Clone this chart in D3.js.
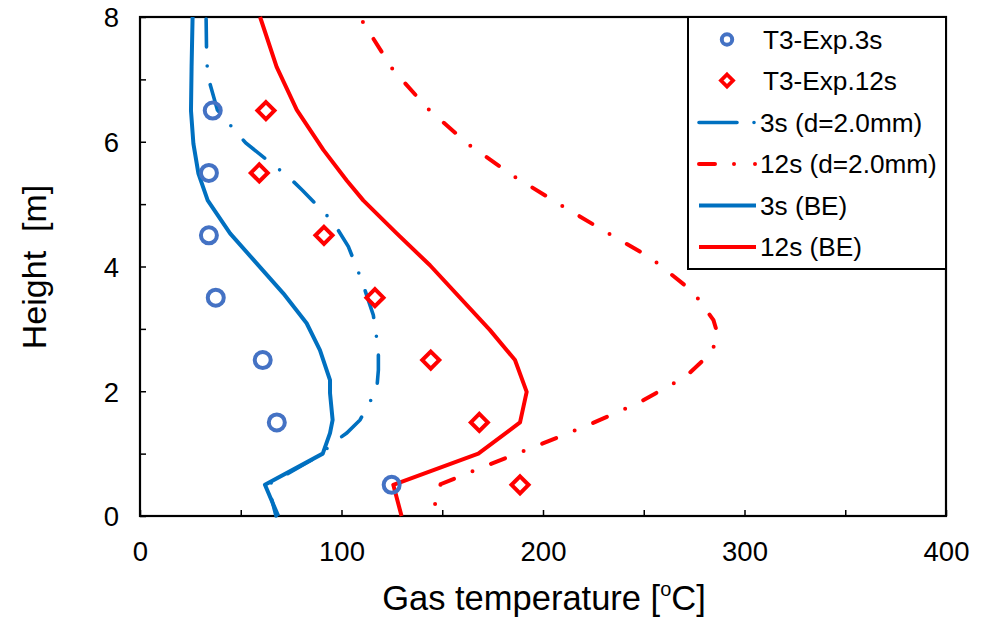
<!DOCTYPE html>
<html><head><meta charset="utf-8">
<script src="https://cdn.jsdelivr.net/npm/d3@7"></script>
<style>
html,body{margin:0;padding:0;background:#fff;}
svg text{font-family:"Liberation Sans",Arial,sans-serif;fill:#000;}
</style></head>
<body><svg id="c" width="991" height="617"></svg>
<script>
// ---- data (height [m], temperature [°C]) ----
const expHeights = [6.5, 5.5, 4.5, 3.5, 2.5, 1.5, 0.5];
const exp3s  = [36.1, 34.2, 34.2, 37.6, 60.9, 67.9, 124.9];
const exp12s = [62.5, 59.2, 91.3, 116.6, 144.3, 168.4, 188.6];

const d3sHeights = [8, 7.28, 6.99, 6.51, 6.21, 5.98, 5.62, 5.44, 5.22, 4.82, 4.58, 4.32, 3.78, 3.22, 2.66, 2.34, 2.03, 1.54, 1.33, 1.14, 1.0, 0.5, 0];
const d3sTemps   = [32.8, 33.1, 34.2, 38.4, 46.3, 52.5, 66.5, 73.6, 80.7, 92.7, 98.4, 103.4, 110, 115.8, 118.3, 118.3, 117.5, 109.2, 102.6, 94.3, 90.7, 63.5, 67.5];

const d12sHeights = [8, 7.91, 7.17, 6.53, 5.96, 5.46, 5.01, 4.57, 4.14, 3.59, 3.14, 2.88, 2.61, 2.24, 1.82, 1.47, 1.15, 0.83, 0.51, 0];
const d12sTemps   = [109, 110.8, 125.2, 142.8, 162.9, 184.9, 207.6, 230.3, 253.4, 274.6, 284.6, 287, 283.2, 271, 247.8, 223.3, 198.9, 173.7, 149.2, 144.8];

const be3sHeights = [8, 7.2, 6.5, 5.97, 5.49, 5.06, 4.53, 4.05, 3.57, 3.09, 2.66, 2.18, 1.97, 1.54, 1.33, 1.0, 0.5, 0];
const be3sTemps   = [26.1, 25.6, 25.3, 26.5, 29, 33.6, 44.7, 57.9, 71.1, 82.7, 89.3, 94.3, 94.3, 95.6, 94.3, 90.7, 62, 68.6];

const be12sHeights = [8, 7.2, 6.51, 5.87, 5.38, 5.06, 4.53, 4.02, 2.98, 2.5, 1.99, 1.5, 1.0, 0.5, 0];
const be12sTemps   = [59.6, 67.8, 77.8, 91, 102.6, 110.8, 127.4, 143.9, 173.7, 186.1, 191.9, 188.6, 167.9, 125.7, 129.8];

const xTicks = [0, 50, 100, 150, 200, 250, 300, 350, 400];
const xLabels = [0, 100, 200, 300, 400];
const yTicks = [0, 1, 2, 3, 4, 5, 6, 7, 8];
const yLabels = [0, 2, 4, 6, 8];
const legendLabels = ["T3-Exp.3s", "T3-Exp.12s", "3s (d=2.0mm)", "12s (d=2.0mm)", "3s (BE)", "12s (BE)"];

// ---- drawing ----
const svg = d3.select("#c");
const L = 140, R = 946, T = 17, B = 516;
const x = d3.scaleLinear().domain([0, 400]).range([L, R]);
const y = d3.scaleLinear().domain([0, 8]).range([B, T]);

const BLUE = "#0070C0", MBLUE = "#4472C4", RED = "#FF0000";

// axes
const xAxis = d3.axisBottom(x).tickValues(xTicks).tickSizeInner(-6).tickSizeOuter(0).tickPadding(25)
  .tickFormat(d => xLabels.includes(d) ? d : "");
const gx = svg.append("g").attr("transform", `translate(0,${B})`).call(xAxis);
const yAxis = d3.axisLeft(y).tickValues(yTicks).tickSizeInner(-6).tickSizeOuter(0).tickPadding(21)
  .tickFormat(d => yLabels.includes(d) ? d : "");
const gy = svg.append("g").attr("transform", `translate(${L},0)`).call(yAxis);
[gx, gy].forEach(g => {
  g.select(".domain").remove();
  g.selectAll(".tick line").attr("stroke", "#000").attr("stroke-width", 1.5);
  g.selectAll(".tick text").attr("font-size", 27.5).attr("font-family", "Liberation Sans, Arial, sans-serif");
});
gy.selectAll(".tick text").attr("dy", "0.36em");

// frame
svg.append("rect").attr("x", L).attr("y", T).attr("width", R - L).attr("height", B - T)
  .attr("fill", "none").attr("stroke", "#000").attr("stroke-width", 2.2);

const clipG = svg.append("g");
const line = d3.line().x(d => x(d[1])).y(d => y(d[0]));
function pairs(h, v) { return h.map((hh, i) => [hh, v[i]]); }

// lines
clipG.append("path").datum(pairs(d12sHeights, d12sTemps)).attr("d", line)
  .attr("fill", "none").attr("stroke", RED).attr("stroke-width", 4)
  .attr("stroke-linecap", "round").attr("stroke-dasharray", "15,20,0,20").attr("stroke-dashoffset", 29);
clipG.append("path").datum(pairs(d3sHeights, d3sTemps)).attr("d", line)
  .attr("fill", "none").attr("stroke", BLUE).attr("stroke-width", 3.6)
  .attr("stroke-linecap", "round").attr("stroke-dasharray", "28,19,0,19").attr("stroke-dashoffset", -2);
clipG.append("path").datum(pairs(be12sHeights, be12sTemps)).attr("d", line)
  .attr("fill", "none").attr("stroke", RED).attr("stroke-width", 4).attr("stroke-linejoin", "round");
clipG.append("path").datum(pairs(be3sHeights, be3sTemps)).attr("d", line)
  .attr("fill", "none").attr("stroke", BLUE).attr("stroke-width", 4).attr("stroke-linejoin", "round");

// markers
const diamond = (cx, cy, r) => `M${cx},${cy - r}L${cx + r},${cy}L${cx},${cy + r}L${cx - r},${cy}Z`;
svg.append("g").selectAll("path").data(expHeights.map((h, i) => [h, exp12s[i]])).join("path")
  .attr("d", d => diamond(x(d[1]), y(d[0]), 8.5))
  .attr("fill", "none").attr("stroke", RED).attr("stroke-width", 4);
svg.append("g").selectAll("circle").data(expHeights.map((h, i) => [h, exp3s[i]])).join("circle")
  .attr("cx", d => x(d[1])).attr("cy", d => y(d[0])).attr("r", 8)
  .attr("fill", "none").attr("stroke", MBLUE).attr("stroke-width", 4);

// legend
const lg = svg.append("g");
lg.append("rect").attr("x", 688).attr("y", T).attr("width", R - 688).attr("height", 269 - T)
  .attr("fill", "#fff").attr("stroke", "#000").attr("stroke-width", 2);
const rowY = [39.5, 80.5, 122.5, 164, 205.5, 247];
const mx = 727, lx0 = 699, lx1 = 756;
lg.append("circle").attr("cx", mx).attr("cy", rowY[0]).attr("r", 5.2).attr("fill", "none").attr("stroke", MBLUE).attr("stroke-width", 4);
lg.append("path").attr("d", diamond(mx, rowY[1], 6)).attr("fill", "none").attr("stroke", RED).attr("stroke-width", 3.8);
lg.append("path").attr("d", `M${lx0},${rowY[2]}H${lx1}`).attr("stroke", BLUE).attr("stroke-width", 3.6)
  .attr("stroke-linecap", "round").attr("stroke-dasharray", "38,17,0,40");
lg.append("path").attr("d", `M${lx0},${rowY[3]}H${lx1}`).attr("stroke", RED).attr("stroke-width", 4)
  .attr("stroke-linecap", "round").attr("stroke-dasharray", "16,19,0,21,0,40");
lg.append("path").attr("d", `M${lx0},${rowY[4]}H${lx1}`).attr("stroke", BLUE).attr("stroke-width", 4);
lg.append("path").attr("d", `M${lx0},${rowY[5]}H${lx1}`).attr("stroke", RED).attr("stroke-width", 4);
lg.selectAll("text").data(legendLabels).join("text")
  .attr("x", (d, i) => i < 2 ? 763 : 760).attr("y", (d, i) => rowY[i]).attr("dy", "0.36em")
  .attr("font-size", 26.2).text(d => d);

// axis titles
svg.append("text").attr("x", 544).attr("y", 610).attr("text-anchor", "middle").attr("font-size", 34.5)
  .html('Gas temperature [<tspan font-size="20" dy="-14">o</tspan><tspan dy="14">C]</tspan>');
svg.append("text").attr("transform", "translate(46,267) rotate(-90)").attr("text-anchor", "middle")
  .attr("font-size", 34).style("white-space", "pre").text("Height  [m]");
</script></body></html>
